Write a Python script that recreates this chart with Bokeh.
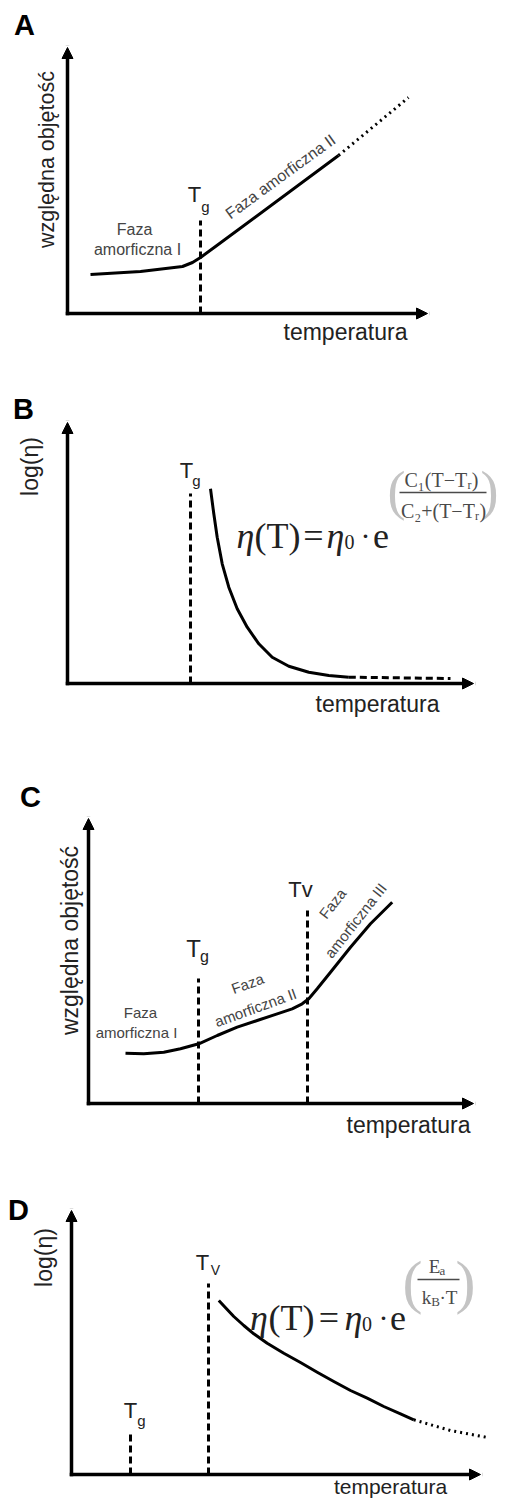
import math
from bokeh.plotting import figure
from bokeh.models import Range1d, Arrow, NormalHead
from bokeh.layouts import column
from bokeh.core.properties import value
from bokeh.embed import file_html
from bokeh.resources import INLINE

SANS = "Liberation Sans"
SERIF = "Liberation Serif"

# ---------------- data (arbitrary units, origin = axis crossing) ----------------
# Panel A : relative volume vs temperature
A_temp = [23, 73, 115, 125, 133, 148, 271]
A_vol = [39, 42, 47, 51, 56, 67, 158]
A_temp_ext = [271, 341]
A_vol_ext = [158, 216]
A_Tg, A_Tg_top = 133, 93
A_axis = (360, 266)

# Panel B : log(viscosity) vs temperature (WLF)
B_temp = [143, 146.3, 149.7, 154.7, 161.3, 169.7, 179.7, 191.3, 204.7, 221.3, 241.3, 261.3, 281.3]
B_logeta = [194.7, 169.7, 146.3, 119.7, 96.3, 74.7, 56.3, 39.7, 26.3, 17.3, 11.3, 8, 6.3]
B_temp_ext = [281.3, 383]
B_logeta_ext = [6.3, 5]
B_Tg, B_Tg_top = 123, 190
B_axis = (406, 261)

# Panel C : relative volume vs temperature, three phases
C_temp = [37, 55.3, 75.3, 92, 110.3, 128.7, 148.7, 168.7, 188.7, 203.7, 213.7, 220.3,
          228.7, 242, 262, 282, 303.7]
C_vol = [50.3, 49.7, 51.3, 54.7, 59.7, 68, 76.3, 83, 89.7, 94.7, 99.7, 104.7,
         114.7, 131.3, 156.3, 179.7, 201.3]
C_Tg, C_Tg_top = 110, 125
C_Tv, C_Tv_top = 219, 193
C_axis = (385, 285)

# Panel D : log(viscosity) vs temperature (Arrhenius)
D_temp = [147.3, 155.7, 162.3, 172.3, 182.3, 195.7, 212.3, 229, 245.7, 262.3, 279, 295.7, 312.3, 329, 342.3]
D_logeta = [174, 165, 158, 149, 140.7, 131.3, 121.3, 112, 102.3, 93, 84, 76.3, 68, 60.7, 54.7]
D_temp_ext = [342.3, 379, 416]
D_logeta_ext = [54.7, 44, 37]
D_Tg, D_Tg_top = 59, 42
D_Tv, D_Tv_top = 137, 191
D_axis = (409, 264)

YLAB_VOL = "względna objętość"
YLAB_ETA = "log(η)"
XLAB = "temperatura"

W = 500


def panel(top, h, ox, oy):
    p = figure(width=W, height=h,
               x_range=Range1d(-ox, W - ox),
               y_range=Range1d(oy - top - h, oy - top),
               output_backend="svg", toolbar_location=None, min_border=0,
               x_axis_location=None, y_axis_location=None)
    p.outline_line_color = None
    p.xgrid.visible = False
    p.ygrid.visible = False
    p.background_fill_color = "white"
    p.border_fill_color = "white"
    return p


def axes(p, ax):
    xl, yl = ax
    for xe, ye in [(xl, 0), (0, yl)]:
        p.add_layout(Arrow(end=NormalHead(size=11, fill_color="black", line_color="black", line_width=1),
                           x_start=0, y_start=0, x_end=xe, y_end=ye,
                           line_width=3.5, line_color="black", line_cap="square"))


def txt(p, x, y, s, size, color="#222222", font=SANS, style="normal", angle=0.0,
        align="center", baseline="middle"):
    p.text(x=[x], y=[y], text=[s], text_font=value(font), text_font_size=f"{size}px",
           text_color=color, text_font_style=style, angle=angle,
           text_align=align, text_baseline=baseline)


def vdash(p, x, top):
    p.line([x, x], [0, top], line_width=3, line_color="black", line_dash="7 4")


def subT(p, x, y, sub, sub_dx, sub_dy, size=22, sub_size=15):
    txt(p, x, y, "T", size)
    txt(p, x + sub_dx, y + sub_dy, sub, sub_size)


def formula(p, xs, base, exp_num, exp_den, frac_line, frac_y, paren_x, paren_y, paren_size):
    # xs: centres of  η, (T), =, η, 0, ·, e
    col = "#222222"
    txt(p, xs[0], base, "η", 36, col, SERIF, "italic", baseline="alphabetic")
    txt(p, xs[1], base, "(T)", 36, col, SERIF, baseline="alphabetic")
    txt(p, xs[2], base, "=", 36, col, SERIF, baseline="alphabetic")
    txt(p, xs[3], base, "η", 36, col, SERIF, "italic", baseline="alphabetic")
    txt(p, xs[4], base - 6, "0", 20, col, SERIF, baseline="alphabetic")
    txt(p, xs[5], base, "·", 30, col, SERIF, baseline="alphabetic")
    txt(p, xs[6], base, "e", 36, col, SERIF, baseline="alphabetic")
    ecol = "#4a4a4a"
    pcol = "#c4c4c4"
    txt(p, paren_x[0], paren_y, "(", paren_size, pcol, SERIF)
    txt(p, paren_x[1], paren_y, ")", paren_size, pcol, SERIF)
    for part in exp_num:
        txt(p, part[0], frac_y[0] + part[1], part[2], part[3], ecol, SERIF)
    for part in exp_den:
        txt(p, part[0], frac_y[1] + part[1], part[2], part[3], ecol, SERIF)
    p.line(frac_line[:2], [frac_line[2]] * 2, line_width=1.4, line_color=ecol)


# ---------------- Panel A ----------------
pA = panel(0, 350, 67, 313)
vdash(pA, A_Tg, A_Tg_top)
pA.line(A_temp, A_vol, line_width=3, line_color="black", line_join="round")
pA.line(A_temp_ext, A_vol_ext, line_width=3, line_color="black", line_dash="2 4")
axes(pA, A_axis)
txt(pA, -43, 289, "A", 29, "black", style="bold")
txt(pA, -21, 154, YLAB_VOL, 21.5, angle=math.pi / 2)
txt(pA, 278, -18, XLAB, 23)
subT(pA, 127, 119, "g", 11, -12, 22, 15)
txt(pA, 67, 84, "Faza", 16, "#444444")
txt(pA, 70, 64, "amorficzna I", 16, "#444444")
txt(pA, 213, 137, "Faza amorficzna II", 16, "#444444", angle=math.radians(36))

# ---------------- Panel B ----------------
pB = panel(350, 400, 67, 683)
vdash(pB, B_Tg, B_Tg_top)
pB.line(B_temp, B_logeta, line_width=3, line_color="black", line_join="round")
pB.line(B_temp_ext, B_logeta_ext, line_width=3, line_color="black", line_dash="7 4")
axes(pB, B_axis)
txt(pB, -44, 275, "B", 29, "black", style="bold")
txt(pB, -38, 217, YLAB_ETA, 23, angle=math.pi / 2)
txt(pB, 310, -20, XLAB, 23)
subT(pB, 119, 213, "g", 10, -10, 22, 15)
formula(pB, [178, 210, 246, 268, 282, 298, 313.5], 148,
        exp_num=[(374, 0, "C₁(T−Tᵣ)", 20)],
        exp_den=[(376, 0, "C₂+(T−Tᵣ)", 20)],
        frac_line=[332, 419, 191], frac_y=(204, 173),
        paren_x=(329, 422), paren_y=193, paren_size=54)

# ---------------- Panel C ----------------
pC = panel(750, 400, 88, 1103)
vdash(pC, C_Tg, C_Tg_top)
vdash(pC, C_Tv, C_Tv_top)
pC.line(C_temp, C_vol, line_width=3, line_color="black", line_join="round")
axes(pC, C_axis)
txt(pC, -58, 307, "C", 29, "black", style="bold")
txt(pC, -19, 163, YLAB_VOL, 23, angle=math.pi / 2)
txt(pC, 320, -21, XLAB, 23)
subT(pC, 105, 155, "g", 11, -8, 24, 16)
txt(pC, 212, 214, "Tv", 22)
txt(pC, 52, 91, "Faza", 15, "#444444")
txt(pC, 48, 71, "amorficzna I", 15, "#444444")
txt(pC, 159, 120, "Faza", 15, "#444444", angle=math.radians(20))
txt(pC, 167, 96, "amorficzna II", 15, "#444444", angle=math.radians(20))
txt(pC, 244, 200, "Faza", 15, "#444444", angle=math.radians(52))
txt(pC, 267, 183, "amorficzna III", 15, "#444444", angle=math.radians(52))

# ---------------- Panel D ----------------
pD = panel(1150, 348, 71, 1474)
vdash(pD, D_Tg, D_Tg_top)
vdash(pD, D_Tv, D_Tv_top)
pD.line(D_temp, D_logeta, line_width=3, line_color="black", line_join="round")
pD.line(D_temp_ext, D_logeta_ext, line_width=3, line_color="black", line_dash="2 4")
axes(pD, D_axis)
txt(pD, -53, 265, "D", 29, "black", style="bold")
txt(pD, -28, 217, YLAB_ETA, 23, angle=math.pi / 2)
txt(pD, 319, -12, XLAB, 21)
subT(pD, 59, 64, "g", 11, -10, 22, 15)
subT(pD, 131, 212, "V", 13, -7, 22, 14)
formula(pD, [187.5, 220, 257.5, 282, 295.5, 312, 326.5], 157,
        exp_num=[(363, 0, "E", 19), (371, -4, "a", 13)],
        exp_den=[(355, 0, "k", 19), (364, -4, "B", 13), (377, 0, "·T", 19)],
        frac_line=[346, 388, 195], frac_y=(208, 177),
        paren_x=(341, 394), paren_y=193, paren_size=60)

layout = column(pA, pB, pC, pD, spacing=0)
open("out.html", "w").write(file_html(layout, INLINE))
